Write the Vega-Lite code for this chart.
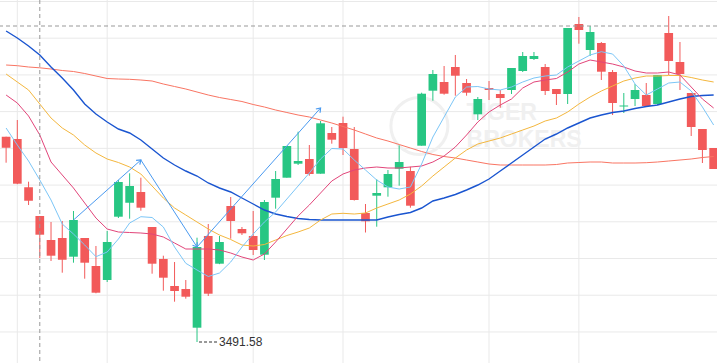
{
  "$schema": "https://vega.github.io/schema/vega-lite/v6.json",
  "width": 717,
  "height": 363,
  "autosize": "none",
  "padding": 0,
  "background": "white",
  "config": {"view": {"stroke": null}},
  "datasets": {
    "k": [
      {"i":-1,"o":3594.23,"h":3594.23,"l":3581.23,"c":3588.73,"m5":3598.58,"m10":3615.08,"m20":3625.58,"m30":3647.08,"m60":3630.08},
      {"i":0,"o":3593.08,"h":3602.58,"l":3570.5,"c":3570.73,"m5":3590.08,"m10":3611.08,"m20":3621.58,"m30":3643.58,"m60":3629.73},
      {"i":1,"o":3568.93,"h":3571.73,"l":3560.08,"c":3562.23,"m5":3582.08,"m10":3604.58,"m20":3617.58,"m30":3639.58,"m60":3629.08},
      {"i":2,"o":3554.58,"h":3554.58,"l":3533.58,"c":3545.23,"m5":3572.58,"m10":3595.08,"m20":3610.58,"m30":3635.08,"m60":3628.68},
      {"i":3,"o":3542.58,"h":3551.58,"l":3532.08,"c":3534.73,"m5":3562.58,"m10":3581.58,"m20":3603.58,"m30":3629.08,"m60":3628.08},
      {"i":4,"o":3543.58,"h":3552.08,"l":3526.23,"c":3532.73,"m5":3550.58,"m10":3575.08,"m20":3598.58,"m30":3623.58,"m60":3627.33},
      {"i":5,"o":3534.23,"h":3557.08,"l":3531.23,"c":3552.58,"m5":3545.58,"m10":3568.58,"m20":3595.08,"m30":3617.58,"m60":3626.83},
      {"i":6,"o":3543.58,"h":3543.58,"l":3523.23,"c":3531.23,"m5":3540.08,"m10":3561.08,"m20":3590.08,"m30":3610.58,"m60":3625.83},
      {"i":7,"o":3529.58,"h":3539.58,"l":3515.93,"c":3516.23,"m5":3534.23,"m10":3553.58,"m20":3586.08,"m30":3605.58,"m60":3624.58},
      {"i":8,"o":3522.58,"h":3547.08,"l":3521.58,"c":3541.58,"m5":3536.58,"m10":3548.08,"m20":3583.08,"m30":3601.58,"m60":3623.33},
      {"i":9,"o":3554.23,"h":3572.58,"l":3553.58,"c":3571.58,"m5":3543.08,"m10":3546.58,"m20":3581.33,"m30":3598.08,"m60":3623.08},
      {"i":10,"o":3561.23,"h":3575.93,"l":3553.23,"c":3569.58,"m5":3551.08,"m10":3546.33,"m20":3579.08,"m30":3596.08,"m60":3622.93},
      {"i":11,"o":3566.58,"h":3573.73,"l":3557.23,"c":3558.73,"m5":3554.23,"m10":3546.08,"m20":3575.58,"m30":3592.58,"m60":3622.58},
      {"i":12,"o":3549.08,"h":3549.08,"l":3525.73,"c":3530.73,"m5":3553.83,"m10":3545.58,"m20":3569.58,"m30":3588.08,"m60":3622.08},
      {"i":13,"o":3533.08,"h":3534.73,"l":3517.23,"c":3523.73,"m5":3549.08,"m10":3544.08,"m20":3563.58,"m30":3583.58,"m60":3620.58},
      {"i":14,"o":3519.58,"h":3531.58,"l":3511.73,"c":3517.08,"m5":3539.08,"m10":3541.08,"m20":3558.58,"m30":3580.08,"m60":3619.33},
      {"i":15,"o":3518.08,"h":3522.58,"l":3513.23,"c":3514.23,"m5":3530.93,"m10":3538.08,"m20":3555.08,"m30":3577.08,"m60":3618.08},
      {"i":16,"o":3498.73,"h":3543.73,"l":3491.58,"c":3539.08,"m5":3527.58,"m10":3538.08,"m20":3551.58,"m30":3574.58,"m60":3616.58},
      {"i":17,"o":3544.58,"h":3550.58,"l":3514.58,"c":3515.73,"m5":3524.33,"m10":3538.08,"m20":3548.08,"m30":3571.08,"m60":3615.08},
      {"i":18,"o":3530.73,"h":3544.58,"l":3530.5,"c":3541.58,"m5":3526.08,"m10":3537.58,"m20":3545.08,"m30":3568.58,"m60":3613.83},
      {"i":19,"o":3559.58,"h":3564.08,"l":3543.23,"c":3552.08,"m5":3531.58,"m10":3536.08,"m20":3542.83,"m30":3566.58,"m60":3612.83},
      {"i":20,"o":3548.08,"h":3549.08,"l":3545.08,"c":3545.93,"m5":3539.08,"m10":3534.08,"m20":3540.08,"m30":3563.58,"m60":3611.83},
      {"i":21,"o":3544.58,"h":3557.08,"l":3535.08,"c":3537.58,"m5":3545.58,"m10":3532.58,"m20":3539.58,"m30":3560.58,"m60":3610.33},
      {"i":22,"o":3535.23,"h":3562.58,"l":3532.58,"c":3561.58,"m5":3551.58,"m10":3535.58,"m20":3540.33,"m30":3557.58,"m60":3609.08},
      {"i":23,"o":3563.73,"h":3577.08,"l":3558.23,"c":3573.08,"m5":3556.58,"m10":3541.58,"m20":3542.58,"m30":3555.58,"m60":3607.58},
      {"i":24,"o":3573.73,"h":3589.58,"l":3573.73,"c":3589.58,"m5":3563.08,"m10":3548.08,"m20":3544.83,"m30":3554.33,"m60":3606.33},
      {"i":25,"o":3580.73,"h":3596.73,"l":3580.08,"c":3582.08,"m5":3569.58,"m10":3554.58,"m20":3546.58,"m30":3553.33,"m60":3605.08},
      {"i":26,"o":3583.08,"h":3590.08,"l":3574.73,"c":3575.58,"m5":3576.08,"m10":3560.08,"m20":3548.58,"m30":3552.83,"m60":3604.08},
      {"i":27,"o":3575.73,"h":3602.08,"l":3575.73,"c":3600.93,"m5":3583.08,"m10":3566.08,"m20":3552.58,"m30":3552.58,"m60":3602.58},
      {"i":28,"o":3596.08,"h":3599.08,"l":3590.73,"c":3592.73,"m5":3588.33,"m10":3572.08,"m20":3555.58,"m30":3552.58,"m60":3601.08},
      {"i":29,"o":3601.08,"h":3604.23,"l":3585.08,"c":3588.58,"m5":3588.08,"m10":3575.58,"m20":3555.93,"m30":3552.58,"m60":3599.33},
      {"i":30,"o":3588.08,"h":3599.08,"l":3562.3,"c":3562.58,"m5":3582.58,"m10":3577.58,"m20":3555.58,"m30":3552.58,"m60":3597.58},
      {"i":31,"o":3556.08,"h":3560.58,"l":3546.33,"c":3551.93,"m5":3577.58,"m10":3578.58,"m20":3556.08,"m30":3552.58,"m60":3595.58},
      {"i":32,"o":3564.73,"h":3572.93,"l":3549.23,"c":3566.08,"m5":3572.58,"m10":3579.08,"m20":3558.58,"m30":3552.58,"m60":3593.58},
      {"i":33,"o":3568.93,"h":3577.58,"l":3564.23,"c":3575.58,"m5":3569.08,"m10":3578.58,"m20":3560.58,"m30":3554.08,"m60":3592.08},
      {"i":34,"o":3578.23,"h":3589.93,"l":3569.73,"c":3581.58,"m5":3568.08,"m10":3578.58,"m20":3562.58,"m30":3555.33,"m60":3590.33},
      {"i":35,"o":3577.08,"h":3579.23,"l":3558.73,"c":3559.73,"m5":3569.08,"m10":3579.08,"m20":3565.58,"m30":3556.33,"m60":3588.58},
      {"i":36,"o":3589.73,"h":3616.23,"l":3589.73,"c":3615.73,"m5":3580.58,"m10":3579.58,"m20":3569.58,"m30":3558.58,"m60":3586.83},
      {"i":37,"o":3617.23,"h":3627.58,"l":3612.23,"c":3625.58,"m5":3594.08,"m10":3581.58,"m20":3574.58,"m30":3562.08,"m60":3585.33},
      {"i":38,"o":3621.58,"h":3629.58,"l":3615.23,"c":3615.73,"m5":3604.08,"m10":3584.58,"m20":3579.08,"m30":3563.58,"m60":3584.33},
      {"i":39,"o":3629.08,"h":3635.08,"l":3614.73,"c":3624.73,"m5":3614.08,"m10":3589.08,"m20":3583.58,"m30":3565.33,"m60":3583.58},
      {"i":40,"o":3621.08,"h":3623.08,"l":3614.73,"c":3616.23,"m5":3619.08,"m10":3595.08,"m20":3587.58,"m30":3567.58,"m60":3582.58},
      {"i":41,"o":3605.43,"h":3614.08,"l":3602.58,"c":3613.08,"m5":3619.33,"m10":3601.58,"m20":3590.58,"m30":3570.08,"m60":3581.58},
      {"i":42,"o":3618.58,"h":3622.08,"l":3612.58,"c":3617.58,"m5":3618.08,"m10":3606.58,"m20":3592.08,"m30":3573.08,"m60":3580.58},
      {"i":43,"o":3615.58,"h":3617.58,"l":3608.73,"c":3613.58,"m5":3617.58,"m10":3610.08,"m20":3593.58,"m30":3577.08,"m60":3580.08},
      {"i":44,"o":3617.58,"h":3628.58,"l":3615.58,"c":3628.58,"m5":3619.08,"m10":3613.08,"m20":3595.58,"m30":3581.08,"m60":3580.08},
      {"i":45,"o":3627.08,"h":3636.58,"l":3626.58,"c":3634.58,"m5":3621.58,"m10":3618.58,"m20":3597.58,"m30":3585.08,"m60":3580.08},
      {"i":46,"o":3633.08,"h":3636.58,"l":3632.58,"c":3634.58,"m5":3623.58,"m10":3621.58,"m20":3599.58,"m30":3589.08,"m60":3580.08},
      {"i":47,"o":3629.08,"h":3630.58,"l":3615.08,"c":3617.08,"m5":3624.58,"m10":3622.58,"m20":3602.08,"m30":3593.08,"m60":3580.08},
      {"i":48,"o":3618.08,"h":3618.08,"l":3610.08,"c":3615.58,"m5":3625.08,"m10":3623.33,"m20":3603.58,"m30":3595.58,"m60":3580.33},
      {"i":49,"o":3615.58,"h":3648.58,"l":3610.58,"c":3648.58,"m5":3629.08,"m10":3626.58,"m20":3606.58,"m30":3598.58,"m60":3581.08},
      {"i":50,"o":3650.58,"h":3654.08,"l":3640.73,"c":3647.58,"m5":3632.08,"m10":3630.58,"m20":3610.58,"m30":3601.08,"m60":3581.33},
      {"i":51,"o":3637.58,"h":3649.58,"l":3634.58,"c":3646.58,"m5":3635.08,"m10":3632.58,"m20":3614.08,"m30":3603.58,"m60":3581.58},
      {"i":52,"o":3641.08,"h":3641.58,"l":3622.58,"c":3626.73,"m5":3636.73,"m10":3631.58,"m20":3617.08,"m30":3605.08,"m60":3581.58},
      {"i":53,"o":3626.58,"h":3627.58,"l":3605.08,"c":3611.08,"m5":3635.58,"m10":3630.58,"m20":3619.58,"m30":3606.33,"m60":3581.08},
      {"i":54,"o":3609.33,"h":3616.08,"l":3606.08,"c":3609.83,"m5":3629.58,"m10":3629.08,"m20":3622.08,"m30":3607.08,"m60":3581.08},
      {"i":55,"o":3613.08,"h":3620.58,"l":3609.58,"c":3617.58,"m5":3620.58,"m10":3627.08,"m20":3623.58,"m30":3608.33,"m60":3581.08},
      {"i":56,"o":3615.08,"h":3621.08,"l":3609.08,"c":3609.58,"m5":3615.08,"m10":3626.08,"m20":3624.58,"m30":3609.33,"m60":3581.23},
      {"i":57,"o":3610.58,"h":3625.08,"l":3610.08,"c":3625.08,"m5":3618.08,"m10":3626.08,"m20":3624.58,"m30":3610.08,"m60":3581.58},
      {"i":58,"o":3646.08,"h":3654.58,"l":3625.08,"c":3632.08,"m5":3621.08,"m10":3626.58,"m20":3624.83,"m30":3611.58,"m60":3582.08},
      {"i":59,"o":3631.58,"h":3641.58,"l":3617.58,"c":3625.58,"m5":3621.58,"m10":3625.08,"m20":3624.83,"m30":3613.08,"m60":3582.58},
      {"i":60,"o":3616.08,"h":3616.08,"l":3594.58,"c":3599.08,"m5":3617.08,"m10":3619.08,"m20":3623.83,"m30":3614.33,"m60":3583.08},
      {"i":61,"o":3598.08,"h":3598.08,"l":3581.08,"c":3587.58,"m5":3609.08,"m10":3613.08,"m20":3622.58,"m30":3614.83,"m60":3583.83},
      {"i":62,"o":3588.58,"h":3588.58,"l":3578.08,"c":3578.08,"m5":3600.08,"m10":3608.58,"m20":3621.58,"m30":3615.08,"m60":3584.33}
    ],
    "xg": [{"i":0},{"i":8},{"i":21},{"i":29},{"i":42},{"i":50}],
    "yg": [{"p":3496.6},{"p":3514.96},{"p":3533.32},{"p":3551.68},{"p":3570.04},{"p":3588.4},{"p":3606.76},{"p":3625.12},{"p":3643.48},{"p":3661.84}],
    "arrow": [{"i":5,"p":3552.58},{"i":11,"p":3582.58},{"i":16,"p":3539.08},{"i":27,"p":3608.58}],
    "one": [{}]
  },
  "layer": [
    {
      "data": {"name": "yg"},
      "mark": {"type": "rule", "color": "#e9e9e9", "strokeWidth": 1},
      "encoding": {
        "y": {"field": "p", "type": "quantitative", "scale": {"domain": [3481.08, 3662.58], "nice": false, "zero": false}, "axis": null}
      }
    },
    {
      "data": {"name": "xg"},
      "mark": {"type": "rule", "color": "#e9e9e9", "strokeWidth": 1},
      "encoding": {
        "x": {"field": "i", "type": "quantitative", "scale": {"domain": [-1.0975, 61.853], "nice": false, "zero": false}, "axis": null}
      }
    },
    {
      "data": {"name": "one"},
      "mark": {"type": "text", "text": "TIGER", "align": "left", "baseline": "alphabetic", "fontSize": 23, "fontWeight": "bold", "font": "Liberation Sans", "color": "#f0f0f0"},
      "encoding": {
        "x": {"datum": 40, "type": "quantitative", "scale": {"domain": [-1.0975, 61.853], "nice": false, "zero": false}, "axis": null},
        "y": {"datum": 3602.58, "type": "quantitative", "scale": {"domain": [3481.08, 3662.58], "nice": false, "zero": false}, "axis": null}
      }
    },
    {
      "data": {"name": "one"},
      "mark": {"type": "text", "text": "BROKERS", "align": "left", "baseline": "alphabetic", "fontSize": 23, "fontWeight": "bold", "font": "Liberation Sans", "color": "#f0f0f0"},
      "encoding": {
        "x": {"datum": 40, "type": "quantitative", "scale": {"domain": [-1.0975, 61.853], "nice": false, "zero": false}, "axis": null},
        "y": {"datum": 3589.08, "type": "quantitative", "scale": {"domain": [3481.08, 3662.58], "nice": false, "zero": false}, "axis": null}
      }
    },
    {
      "data": {"name": "one"},
      "mark": {"type": "point", "shape": "circle", "filled": false, "size": 3249, "color": "#f0f0f0", "strokeWidth": 3, "opacity": 1},
      "encoding": {
        "x": {"datum": 35.8, "type": "quantitative", "scale": {"domain": [-1.0975, 61.853], "nice": false, "zero": false}, "axis": null},
        "y": {"datum": 3599.58, "type": "quantitative", "scale": {"domain": [3481.08, 3662.58], "nice": false, "zero": false}, "axis": null}
      }
    },
    {
      "data": {"name": "k"},
      "mark": {"type": "rule", "strokeWidth": 1},
      "encoding": {
        "x": {"field": "i", "type": "quantitative", "scale": {"domain": [-1.0975, 61.853], "nice": false, "zero": false}, "axis": null},
        "y": {"field": "l", "type": "quantitative", "scale": {"domain": [3481.08, 3662.58], "nice": false, "zero": false}, "axis": null},
        "y2": {"field": "h"},
        "color": {"condition": {"test": "datum.o > datum.c", "value": "#f25a5a"}, "value": "#27c683"}
      }
    },
    {
      "data": {"name": "k"},
      "mark": {"type": "bar", "width": 8.7},
      "encoding": {
        "x": {"field": "i", "type": "quantitative", "scale": {"domain": [-1.0975, 61.853], "nice": false, "zero": false}, "axis": null},
        "y": {"field": "o", "type": "quantitative", "scale": {"domain": [3481.08, 3662.58], "nice": false, "zero": false}, "axis": null},
        "y2": {"field": "c"},
        "color": {"condition": {"test": "datum.o > datum.c", "value": "#f25a5a"}, "value": "#27c683"}
      }
    },
    {
      "data": {"name": "k"},
      "mark": {"type": "line", "color": "#f97563", "strokeWidth": 1},
      "encoding": {
        "x": {"field": "i", "type": "quantitative", "scale": {"domain": [-1.0975, 61.853], "nice": false, "zero": false}, "axis": null},
        "y": {"field": "m60", "type": "quantitative", "scale": {"domain": [3481.08, 3662.58], "nice": false, "zero": false}, "axis": null}
      }
    },
    {
      "data": {"name": "k"},
      "mark": {"type": "line", "color": "#1a55d0", "strokeWidth": 1.4},
      "encoding": {
        "x": {"field": "i", "type": "quantitative", "scale": {"domain": [-1.0975, 61.853], "nice": false, "zero": false}, "axis": null},
        "y": {"field": "m30", "type": "quantitative", "scale": {"domain": [3481.08, 3662.58], "nice": false, "zero": false}, "axis": null}
      }
    },
    {
      "data": {"name": "k"},
      "mark": {"type": "line", "color": "#f4b73e", "strokeWidth": 1},
      "encoding": {
        "x": {"field": "i", "type": "quantitative", "scale": {"domain": [-1.0975, 61.853], "nice": false, "zero": false}, "axis": null},
        "y": {"field": "m20", "type": "quantitative", "scale": {"domain": [3481.08, 3662.58], "nice": false, "zero": false}, "axis": null}
      }
    },
    {
      "data": {"name": "k"},
      "mark": {"type": "line", "color": "#e2457a", "strokeWidth": 1},
      "encoding": {
        "x": {"field": "i", "type": "quantitative", "scale": {"domain": [-1.0975, 61.853], "nice": false, "zero": false}, "axis": null},
        "y": {"field": "m10", "type": "quantitative", "scale": {"domain": [3481.08, 3662.58], "nice": false, "zero": false}, "axis": null}
      }
    },
    {
      "data": {"name": "k"},
      "mark": {"type": "line", "color": "#7cc6f7", "strokeWidth": 1},
      "encoding": {
        "x": {"field": "i", "type": "quantitative", "scale": {"domain": [-1.0975, 61.853], "nice": false, "zero": false}, "axis": null},
        "y": {"field": "m5", "type": "quantitative", "scale": {"domain": [3481.08, 3662.58], "nice": false, "zero": false}, "axis": null}
      }
    },
    {
      "data": {"name": "arrow"},
      "mark": {"type": "line", "color": "#4a9af0", "strokeWidth": 1},
      "encoding": {
        "x": {"field": "i", "type": "quantitative", "scale": {"domain": [-1.0975, 61.853], "nice": false, "zero": false}, "axis": null},
        "y": {"field": "p", "type": "quantitative", "scale": {"domain": [3481.08, 3662.58], "nice": false, "zero": false}, "axis": null}
      }
    },
    {
      "data": {"name": "one"},
      "mark": {"type": "point", "shape": "M-0.8,1.1L0,0L0.8,1.1", "filled": false, "size": 50, "color": "#4a9af0", "strokeWidth": 1.2, "opacity": 1, "angle": 48.7},
      "encoding": {
        "x": {"datum": 11, "type": "quantitative", "scale": {"domain": [-1.0975, 61.853], "nice": false, "zero": false}, "axis": null},
        "y": {"datum": 3582.58, "type": "quantitative", "scale": {"domain": [3481.08, 3662.58], "nice": false, "zero": false}, "axis": null}
      }
    },
    {
      "data": {"name": "one"},
      "mark": {"type": "point", "shape": "M-0.8,1.1L0,0L0.8,1.1", "filled": false, "size": 50, "color": "#4a9af0", "strokeWidth": 1.2, "opacity": 1, "angle": 146.8},
      "encoding": {
        "x": {"datum": 16, "type": "quantitative", "scale": {"domain": [-1.0975, 61.853], "nice": false, "zero": false}, "axis": null},
        "y": {"datum": 3539.08, "type": "quantitative", "scale": {"domain": [3481.08, 3662.58], "nice": false, "zero": false}, "axis": null}
      }
    },
    {
      "data": {"name": "one"},
      "mark": {"type": "point", "shape": "M-0.8,1.1L0,0L0.8,1.1", "filled": false, "size": 50, "color": "#4a9af0", "strokeWidth": 1.2, "opacity": 1, "angle": 42},
      "encoding": {
        "x": {"datum": 27, "type": "quantitative", "scale": {"domain": [-1.0975, 61.853], "nice": false, "zero": false}, "axis": null},
        "y": {"datum": 3608.58, "type": "quantitative", "scale": {"domain": [3481.08, 3662.58], "nice": false, "zero": false}, "axis": null}
      }
    },
    {
      "data": {"name": "one"},
      "mark": {"type": "rule", "color": "#999999", "strokeWidth": 1, "strokeDash": [4, 3]},
      "encoding": {
        "x": {"datum": 2, "type": "quantitative", "scale": {"domain": [-1.0975, 61.853], "nice": false, "zero": false}, "axis": null}
      }
    },
    {
      "data": {"name": "one"},
      "mark": {"type": "rule", "color": "#999999", "strokeWidth": 1, "strokeDash": [4, 3]},
      "encoding": {
        "y": {"datum": 3649.58, "type": "quantitative", "scale": {"domain": [3481.08, 3662.58], "nice": false, "zero": false}, "axis": null}
      }
    },
    {
      "data": {"name": "one"},
      "mark": {"type": "rule", "color": "#333333", "strokeWidth": 1, "strokeDash": [3, 2], "xOffset": 2, "x2Offset": 21},
      "encoding": {
        "x": {"datum": 16, "type": "quantitative", "scale": {"domain": [-1.0975, 61.853], "nice": false, "zero": false}, "axis": null},
        "x2": {"datum": 16},
        "y": {"datum": 3491.58, "type": "quantitative", "scale": {"domain": [3481.08, 3662.58], "nice": false, "zero": false}, "axis": null}
      }
    },
    {
      "data": {"name": "one"},
      "mark": {"type": "text", "text": "3491.58", "align": "left", "baseline": "middle", "dx": 22, "fontSize": 12, "font": "Liberation Sans", "color": "#333333"},
      "encoding": {
        "x": {"datum": 16, "type": "quantitative", "scale": {"domain": [-1.0975, 61.853], "nice": false, "zero": false}, "axis": null},
        "y": {"datum": 3491.58, "type": "quantitative", "scale": {"domain": [3481.08, 3662.58], "nice": false, "zero": false}, "axis": null}
      }
    }
  ]
}
